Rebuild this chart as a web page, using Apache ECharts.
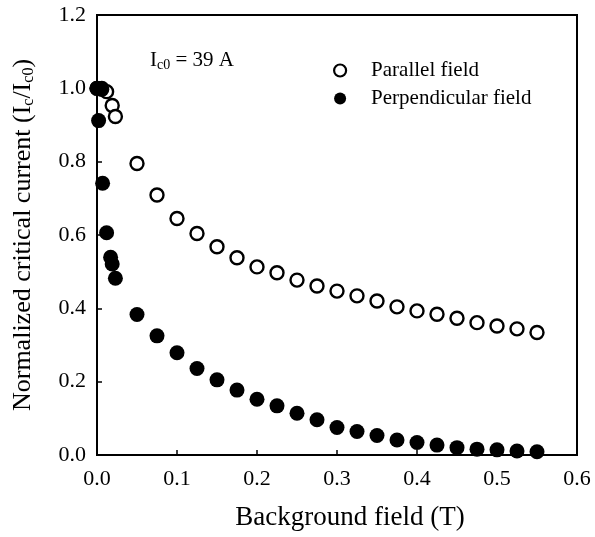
<!DOCTYPE html>
<html>
<head>
<meta charset="utf-8">
<script src="https://cdn.jsdelivr.net/npm/echarts@6/dist/echarts.min.js"></script>
<style>
  html, body { margin: 0; padding: 0; background: #fff; }
  #chart { width: 595px; height: 537px; }
</style>
</head>
<body>
<div id="chart"></div>
<script>
// Background field (T) and normalized critical current for each orientation
const parallelField = [0, 0.006, 0.012, 0.019, 0.023, 0.05, 0.075, 0.1, 0.125, 0.15, 0.175, 0.2, 0.225, 0.25, 0.275, 0.3, 0.325, 0.35, 0.375, 0.4, 0.425, 0.45, 0.475, 0.5, 0.525, 0.55];
const parallelIc = [1.0, 1.0, 0.991, 0.953, 0.923, 0.795, 0.709, 0.645, 0.604, 0.568, 0.538, 0.513, 0.497, 0.477, 0.461, 0.447, 0.434, 0.420, 0.404, 0.393, 0.384, 0.373, 0.361, 0.352, 0.344, 0.334];

const perpField = [0, 0.006, 0.002, 0.007, 0.012, 0.017, 0.019, 0.023, 0.05, 0.075, 0.1, 0.125, 0.15, 0.175, 0.2, 0.225, 0.25, 0.275, 0.3, 0.325, 0.35, 0.375, 0.4, 0.425, 0.45, 0.475, 0.5, 0.525, 0.55];
const perpIc = [1.0, 0.997, 0.912, 0.741, 0.606, 0.539, 0.521, 0.482, 0.383, 0.325, 0.279, 0.236, 0.205, 0.177, 0.152, 0.134, 0.114, 0.096, 0.075, 0.064, 0.053, 0.041, 0.034, 0.027, 0.020, 0.016, 0.014, 0.011, 0.009];

const seriesNames = ['Parallel field', 'Perpendicular field'];

const FONT = '"Liberation Serif", "Times New Roman", serif';
const pairs = (xs, ys) => xs.map((x, i) => [x, ys[i]]);

const chart = echarts.init(document.getElementById('chart'), null, { renderer: 'canvas' });

chart.setOption({
  animation: false,
  backgroundColor: '#fff',
  grid: {
    left: 97, right: 18, top: 15, bottom: 82,
    show: true, borderColor: '#000', borderWidth: 2, backgroundColor: 'transparent'
  },
  xAxis: {
    type: 'value', min: 0, max: 0.6, interval: 0.1,
    name: 'Background field (T)', nameLocation: 'middle', nameGap: 49,
    nameTextStyle: { fontFamily: FONT, fontSize: 27, color: '#000', padding: [0, 0, 0, 26] },
    axisLine: { show: true, lineStyle: { color: '#000', width: 2 } },
    axisTick: { show: true, inside: true, length: 5, lineStyle: { color: '#000', width: 1.5 } },
    axisLabel: {
      fontFamily: FONT, fontSize: 22, color: '#000', margin: 13,
      formatter: v => v.toFixed(1)
    },
    splitLine: { show: false }
  },
  yAxis: {
    type: 'value', min: 0, max: 1.2, interval: 0.2,
    name: 'Normalized critical current (I{sub|c}/I{sub|c0})',
    nameLocation: 'middle', nameGap: 60, nameRotate: 90,
    nameTextStyle: {
      fontFamily: FONT, fontSize: 26, color: '#000',
      rich: {
        sub: { fontFamily: FONT, fontSize: 16, color: '#000', padding: [11, 0, 0, 0] }
      }
    },
    axisLine: { show: true, lineStyle: { color: '#000', width: 2 } },
    axisTick: { show: true, inside: true, length: 5, lineStyle: { color: '#000', width: 1.5 } },
    axisLabel: {
      fontFamily: FONT, fontSize: 22, color: '#000', margin: 11,
      formatter: v => v.toFixed(1)
    },
    splitLine: { show: false }
  },
  legend: {
    orient: 'vertical', left: 328, top: 55, itemGap: 7,
    itemWidth: 12, itemHeight: 12,
    textStyle: { fontFamily: FONT, fontSize: 21, color: '#000', padding: [0, 0, 0, 20] },
    data: [
      { name: seriesNames[0], icon: 'circle', itemStyle: { color: '#fff', borderColor: '#000', borderWidth: 2.2 } },
      { name: seriesNames[1], icon: 'circle', itemStyle: { color: '#000' } }
    ]
  },
  graphic: [{
    type: 'text', left: 150, top: 50,
    style: {
      text: 'I{sub|c0} = 39 A',
      font: '21px ' + FONT, fill: '#000',
      rich: { sub: { fontFamily: FONT, fontSize: 14, fill: '#000', padding: [10, 0, 0, 0] } }
    }
  }],
  series: [
    {
      name: seriesNames[0], type: 'scatter', symbol: 'circle', symbolSize: 13, z: 2,
      itemStyle: { color: '#fff', borderColor: '#000', borderWidth: 2.4, opacity: 1 },
      data: pairs(parallelField, parallelIc)
    },
    {
      name: seriesNames[1], type: 'scatter', symbol: 'circle', symbolSize: 15, z: 3,
      itemStyle: { color: '#000', opacity: 1 },
      data: pairs(perpField, perpIc)
    }
  ]
});
</script>
</body>
</html>
